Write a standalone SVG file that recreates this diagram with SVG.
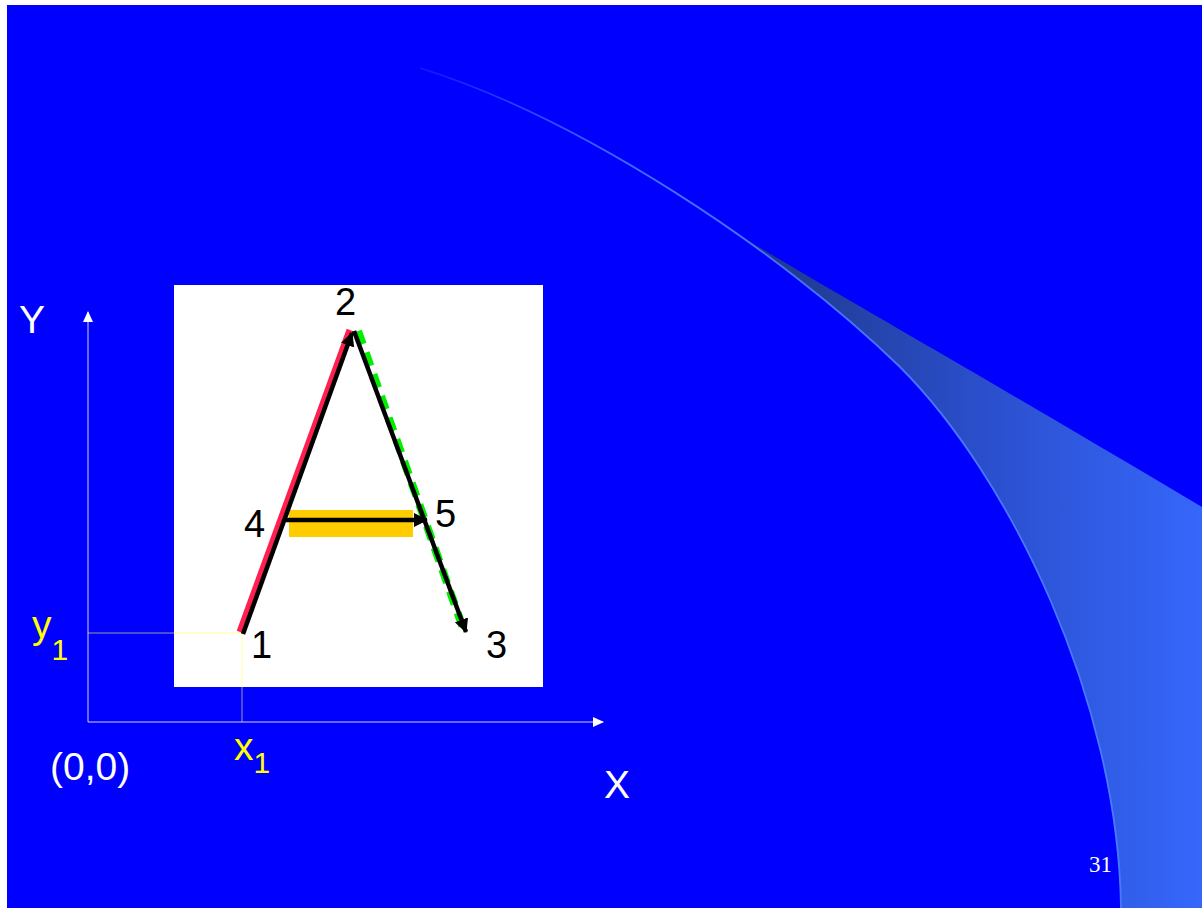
<svg xmlns="http://www.w3.org/2000/svg" width="1202" height="908" viewBox="0 0 1202 908">
<style>
.lbl{font-family:"Liberation Sans",Arial,sans-serif;font-size:38px;fill:#000}
.wht{font-family:"Liberation Sans",Arial,sans-serif;font-size:39px;fill:#fff}
.yel{font-family:"Liberation Sans",Arial,sans-serif;font-size:39px;fill:#ffff00}
.axis{stroke:#ffffff;stroke-opacity:0.55;stroke-width:1.5;fill:none}
.guide{stroke:#ffff66;stroke-opacity:0.6;stroke-width:1;fill:none}
.stroke{stroke:#000;stroke-width:4.5;fill:none}
</style>
<defs>
<linearGradient id="band" gradientUnits="userSpaceOnUse" x1="730" y1="0" x2="1202" y2="0">
<stop offset="0" stop-color="#1d3580"/>
<stop offset="0.5" stop-color="#2a4dc8"/>
<stop offset="1" stop-color="#3567fb"/>
</linearGradient>
<linearGradient id="edge" gradientUnits="userSpaceOnUse" x1="420" y1="0" x2="1121" y2="0">
<stop offset="0" stop-color="#4a78ff" stop-opacity="0.2"/>
<stop offset="0.3" stop-color="#4a78ff" stop-opacity="0.9"/>
<stop offset="1" stop-color="#4a78ff" stop-opacity="1"/>
</linearGradient>
<marker id="ah" markerUnits="userSpaceOnUse" markerWidth="16" markerHeight="16" refX="13" refY="7" orient="auto">
<path d="M0,0 L14,7 L0,14 Z" fill="#000"/>
</marker>
<marker id="axh" markerUnits="userSpaceOnUse" markerWidth="12" markerHeight="12" refX="10" refY="5" orient="auto">
<path d="M0,0 L11,5 L0,10 Z" fill="#fff"/>
</marker>
</defs>

<rect x="0" y="0" width="1202" height="908" fill="#ffffff"/>
<rect x="7" y="5" width="1195" height="903" fill="#0000ff"/>

<g id="swoosh">
<path d="M725,226 C790,268 930,345 1202,507 L1202,908 L1121,908 C1118,700 1010,477 900,367 C852,320 791,271 725,226 Z" fill="url(#band)"/>
<path d="M420,68 C580,118 780,250 900,367 C1010,477 1118,700 1121,908" fill="none" stroke="url(#edge)" stroke-width="1.8"/>
</g>

<g id="panel">
<rect x="174" y="285" width="369" height="402" fill="#ffffff"/>
</g>

<g id="axes">
<line class="axis" x1="88" y1="722" x2="88" y2="312" marker-end="url(#axh)"/>
<line class="axis" x1="88" y1="722" x2="603" y2="722" marker-end="url(#axh)"/>
<polyline class="guide" points="88,633 242,633 242,722"/>
<text class="wht" x="19" y="333">Y</text>
<text class="wht" x="604" y="798">X</text>
<text class="wht" x="50" y="780">(0,0)</text>
<text class="yel" x="32" y="638">y<tspan font-size="30" dy="22">1</tspan></text>
<text class="yel" x="234" y="760">x<tspan font-size="30" dy="13">1</tspan></text>
</g>

<g id="highlights">
<rect x="289" y="510" width="124" height="27" fill="#ffcc00"/>
<line x1="240" y1="632" x2="350" y2="330" stroke="#ff2050" stroke-width="7"/>
<line x1="358" y1="331" x2="463" y2="628" stroke="#00ee00" stroke-width="8" stroke-dasharray="14,9"/>
</g>

<g id="connectors">
<line class="stroke" x1="243" y1="634" x2="352" y2="333" marker-end="url(#ah)"/>
<line class="stroke" x1="354" y1="331" x2="466" y2="632" marker-end="url(#ah)"/>
<line class="stroke" x1="285" y1="520" x2="427" y2="520" marker-end="url(#ah)"/>
</g>

<g id="p1"><text class="lbl" x="251" y="658">1</text></g>
<g id="p2"><text class="lbl" x="335" y="315">2</text></g>
<g id="p3"><text class="lbl" x="486" y="658">3</text></g>
<g id="p4"><text class="lbl" x="244" y="537">4</text></g>
<g id="p5"><text class="lbl" x="435" y="527">5</text></g>

<g id="pagenum"><text x="1089" y="872" font-family="Liberation Serif,'Times New Roman',serif" font-size="23" fill="#fff">31</text></g>
</svg>
